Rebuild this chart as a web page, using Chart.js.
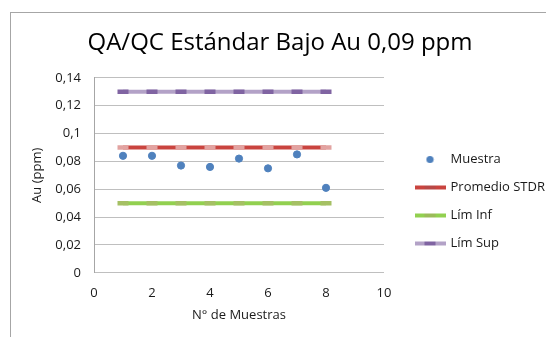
<!DOCTYPE html>
<html>
<head>
<meta charset="utf-8">
<script src="https://cdn.jsdelivr.net/npm/chart.js@4.4.0/dist/chart.umd.min.js"></script>
<style>
  html, body { margin: 0; padding: 0; background: #fff; overflow: hidden; width: 546px; height: 337px; }
  #frame { position: absolute; left: 10px; top: 12px; width: 600px; height: 400px; border: 1px solid #a6a6a6; }
  #wrap { position: absolute; left: 0; top: 0; width: 560px; height: 337px; }
</style>
</head>
<body>
<div id="frame"></div>
<div id="wrap"><canvas id="chart" width="560" height="337"></canvas></div>
<script>
const muestras = [1, 2, 3, 4, 5, 6, 7, 8];
const muestra  = [0.084, 0.084, 0.077, 0.076, 0.082, 0.075, 0.085, 0.061];
const promedio = [0.09, 0.09, 0.09, 0.09, 0.09, 0.09, 0.09, 0.09];
const limInf   = [0.05, 0.05, 0.05, 0.05, 0.05, 0.05, 0.05, 0.05];
const limSup   = [0.13, 0.13, 0.13, 0.13, 0.13, 0.13, 0.13, 0.13];
const seriesNames = ['Muestra', 'Promedio STDR', 'Lím Inf', 'Lím Sup'];
const xRange = [0, 10, 2];
const yRange = [0, 0.14, 0.02];

const FONT = '"Open Sans", sans-serif';
const TXT = '#1a1a1a';

const pts = vals => muestras.map((x, i) => ({ x, y: vals[i] }));
const fmt = v => String(Math.round(v * 100) / 100).replace('.', ',');

// petites icônes de légende : ligne + marqueur au milieu
function swatch(lineCol, markCol) {
  const c = document.createElement('canvas');
  c.width = 31; c.height = 6;
  const g = c.getContext('2d');
  g.fillStyle = lineCol; g.fillRect(0, 1, 31, 4);
  g.fillStyle = markCol; g.fillRect(10, 1, 11, 4);
  return c;
}
function dot(col) {
  const c = document.createElement('canvas');
  c.width = 9; c.height = 9;
  const g = c.getContext('2d');
  g.fillStyle = col; g.beginPath(); g.arc(4.5, 4.5, 3.6, 0, Math.PI * 2); g.fill();
  return c;
}
const legendIcons = [
  dot('#4f81bd'),
  swatch('#c9443f', '#b84846'),
  swatch('#92d050', '#9bbb59'),
  swatch('#b3a2c7', '#8064a2'),
];

const limitLine = (label, vals, lineCol, markCol) => ({
  type: 'line', label, data: pts(vals),
  borderColor: lineCol, borderWidth: 4,
  pointStyle: 'line', pointRadius: 5.5, pointHoverRadius: 5.5,
  pointBorderColor: markCol, pointBorderWidth: 4.5,
  showLine: true, fill: false,
});

// axes vides qui réservent de la place à droite
const spacer = (w, weight) => ({
  position: 'right', display: true, weight,
  ticks: { display: false }, grid: { display: false }, border: { display: false },
  afterFit: s => { s.width = w; }
});

// la légende est bornée en largeur par le layout : on l'élargit jusqu'au bord
const wideLegend = {
  id: 'wideLegend',
  afterLayout(chart) {
    const l = chart.legend;
    if (!l) return;
    l.right = chart.width;
    l.width = l.right - l.left;
  }
};

new Chart(document.getElementById('chart'), {
  type: 'scatter',
  data: {
    datasets: [
      { label: seriesNames[0], data: pts(muestra), backgroundColor: '#4f81bd', borderColor: '#4f81bd', pointRadius: 3.6, order: 0 },
      { ...limitLine(seriesNames[1], promedio, '#c9443f', '#e2a3a1'), order: 1 },
      { ...limitLine(seriesNames[2], limInf, '#92d050', '#a5c064'), order: 2 },
      { ...limitLine(seriesNames[3], limSup, '#b3a2c7', '#8064a2'), order: 3 },
    ]
  },
  plugins: [wideLegend],
  options: {
    responsive: false,
    devicePixelRatio: 1,
    animation: false,
    layout: { padding: { left: 0, right: 0, top: 0, bottom: 14 } },
    plugins: {
      title: {
        display: true, text: 'QA/QC Estándar Bajo Au 0,09 ppm', color: '#000',
        font: { family: FONT, size: 24, weight: 'normal' },
        padding: { top: 29, bottom: 20 }
      },
      legend: {
        position: 'right', fullSize: false, maxWidth: 60,
        title: { display: true, text: ' ', font: { size: 12 }, padding: { top: 38, bottom: 0 } },
        labels: {
          usePointStyle: true, pointStyleWidth: 28, padding: 15,
          color: TXT, font: { family: FONT, size: 13 },
          generateLabels: chart => Chart.defaults.plugins.legend.labels.generateLabels(chart)
            .map((l, i) => ({ ...l, pointStyle: legendIcons[i] }))
        }
      },
      tooltip: { enabled: false }
    },
    scales: {
      x: {
        type: 'linear', min: xRange[0], max: xRange[1],
        ticks: { stepSize: xRange[2], color: TXT, font: { family: FONT, size: 13 }, padding: 13 },
        grid: { display: false, drawTicks: false },
        border: { display: false },
        title: { display: true, text: 'N° de Muestras', color: TXT, font: { family: FONT, size: 13 }, padding: { top: -7, bottom: 0 } }
      },
      y: {
        min: yRange[0], max: yRange[1],
        ticks: { stepSize: yRange[2], color: TXT, font: { family: FONT, size: 13 }, padding: 13, callback: v => fmt(v) },
        grid: { color: '#bfbfbf', lineWidth: 1, drawTicks: false },
        border: { display: true, color: '#a6a6a6', width: 1 },
        title: { display: true, text: 'Au (ppm)', color: TXT, font: { family: FONT, size: 13 }, padding: { top: 29, bottom: 0 } },
        afterFit: s => { s.width = 94; }
      },
      gapIn: spacer(17, 0),
      gapOut: spacer(99, 2000)
    }
  }
});
</script>
</body>
</html>
